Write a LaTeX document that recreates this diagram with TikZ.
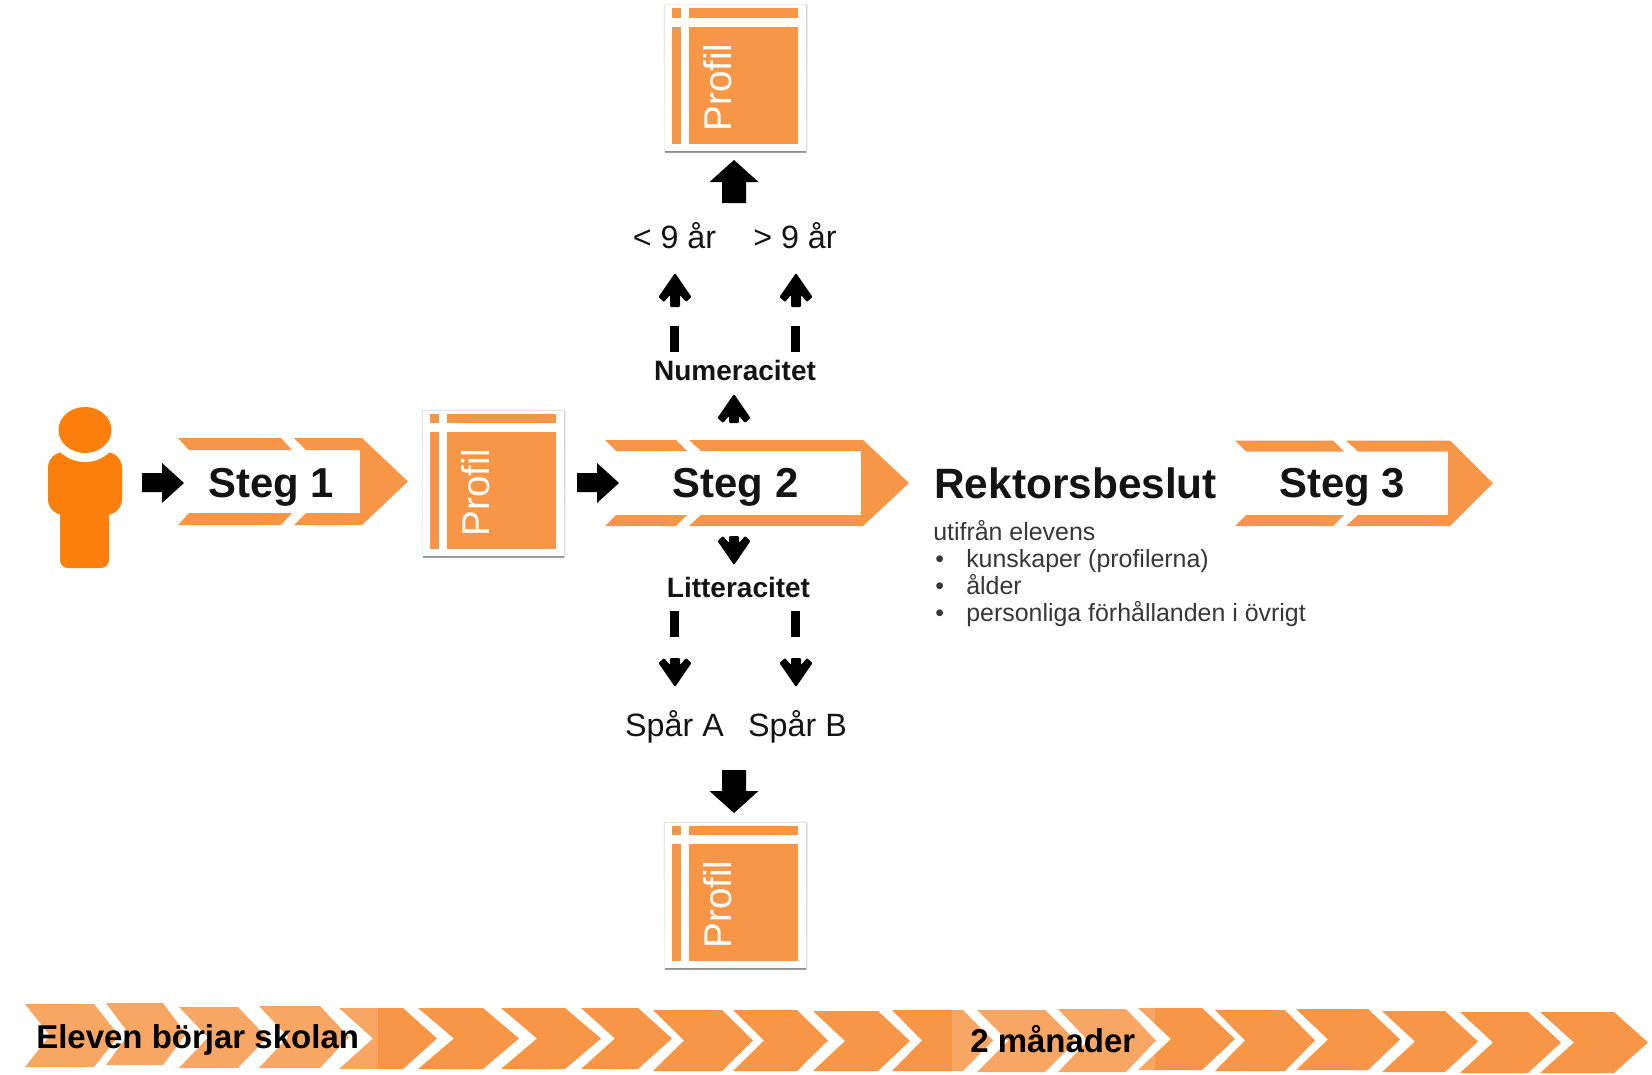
\documentclass[tikz,border=0pt]{standalone}
\usepackage{fontspec}
\setmainfont{Liberation Sans}
\definecolor{org}{HTML}{F79646}
\definecolor{person}{HTML}{FA7F0C}
\definecolor{txt}{HTML}{141414}
\definecolor{shade}{HTML}{7F8794}
\newcommand{\fs}[1]{\fontsize{#1}{#1}\selectfont}
\newcommand{\BlockRight}[2]{\fill[black] (#1,#2) -- ++(-22,-20) -- ++(0,10) -- ++(-20,0) -- ++(0,19) -- ++(20,0) -- ++(0,11) -- cycle;}
\newcommand{\BigV}[3]{\begin{scope}[shift={(#1,#2)},yscale=#3]\fill[black] (0,0) -- (-24.5,-22) -- (-12,-22) -- (-12,-43) -- (12,-43) -- (12,-22) -- (24.5,-22) -- cycle;\end{scope}}
\newcommand{\SmallV}[4]{\begin{scope}[shift={(#1,#2)},yscale=#3]\fill[black,rounded corners=0.8] (0,0) -- (-16.5,-24) -- (-11,-29) -- (-5,-22) -- (-5,-#4) -- (5,-#4) -- (5,-22) -- (11,-29) -- (16.5,-24) -- cycle;\end{scope}}
\newcommand{\StepShape}[8]{%
 \pgfmathsetmacro{\ymid}{(#6+#7)/2}
 \fill[org] (#1,#6) -- (#2,#6) -- ({#2+11},{#6+#8}) -- ({#1+11},{#6+#8}) -- cycle;
 \fill[org] (#3,#6) -- (#4,#6) -- (#5,\ymid) -- (#4,#7) -- (#3,#7) -- ({#3+12},{#7-#8}) -- ({#4-2},{#7-#8}) -- ({#4-2},{#6+#8}) -- ({#3+12},{#6+#8}) -- cycle;
 \fill[org] (#1,#7) -- ({#2},#7) -- ({#2+11},{#7-#8}) -- ({#1+11},{#7-#8}) -- cycle;
}
\newcommand{\ProfilCard}[3]{\begin{scope}[shift={(#1,#2)}]
 \fill[shade,opacity=.05] (-0.5,1) rectangle (143.5,150);
 \fill[shade,opacity=.08] (0.5,2) rectangle (142.5,149.5);
 \fill[shade,opacity=.45] (1,146.5) rectangle (142,149.5);
 \fill[white] (1,2) rectangle (142,147);
 \fill[org] (8,5) rectangle (17,14.5);
 \fill[org] (25,5) rectangle (134,14.5);
 \fill[org] (8,23.5) rectangle (17,140.5);
 \fill[org] (25,23.5) rectangle (134,140.5);
 \node[profiltext] (#3) at (67,84) {Prof{}il};
\end{scope}}
\newcommand{\Chev}[5]{\pgfmathsetmacro{\ymid}{(#4+#5)/2}\fill[org] (#1,#4) -- (#2,#4) -- (#3,\ymid) -- (#2,#5) -- (#1,#5) -- ({#1+#3-#2},\ymid) -- cycle;}
\tikzset{
 x=0.75pt,y=-0.75pt,
 lbl/.style={inner sep=0pt,anchor=base,text=txt},
 steglabel/.style={lbl,font=\bfseries\fs{31.4}},
 midlabel/.style={lbl,font=\bfseries\fs{21}},
 opt/.style={lbl,font=\fs{24.2}},
 note/.style={inner sep=0pt,anchor=base west,text=txt!85,font=\fs{18.7}},
 barlabel/.style={inner sep=0pt,anchor=base west,text=black,font=\bfseries\fs{24.75}},
 profiltext/.style={inner sep=0pt,anchor=base,rotate=90,text=white,font=\fs{29}},
 dashbar/.style={fill=black},
 lighter/.style={fill=white,opacity=.16},
}
\begin{document}
\begin{tikzpicture}
\useasboundingbox (0,0) rectangle (1652,1074);
\fill[white] (0,0) rectangle (1652,1074);

% person
\fill[person,rounded corners=12] (48,452) rectangle (122,515);
\fill[person,rounded corners=6] (60,490) rectangle (109,568);
\fill[white] (85,430) ellipse [x radius=34,y radius=32];
\fill[person] (85,430) ellipse [x radius=26.5,y radius=23];

% main row
\BlockRight{184}{483}
\StepShape{178}{281}{294}{362}{408}{438}{525}{12}
\node[steglabel] (s1) at (271,497) {Steg 1};
\ProfilCard{422}{408.5}{pm}
\BlockRight{619}{483}
\StepShape{605}{676}{689}{863}{909}{440}{526}{11}
\node[steglabel] (s2) at (735.5,497) {Steg 2};
\node[lbl,anchor=base west,font=\bfseries\fs{31.8}] (rb) at (934,498) {Rektorsbeslut};
\StepShape{1235}{1333}{1346}{1450}{1493}{440.5}{526}{11}
\node[steglabel] (s3) at (1342,497) {Steg 3};

% note
\node[note] (n0) at (933,540) {utifrån elevens};
\node[note] (b1) at (935,567) {•};
\node[note] (n1) at (966,567) {kunskaper (prof{}ilerna)};
\node[note] (b2) at (935,594) {•};
\node[note] (n2) at (966,594) {ålder};
\node[note] (b3) at (935,621) {•};
\node[note] (n3) at (966,621) {personliga förhållanden i övrigt};

% upward branch
\ProfilCard{664}{3.5}{pt}
\BigV{734}{160}{-1}
\node[opt] (lt) at (674.5,248) {< 9 år};
\node[opt] (gt) at (795,248) {> 9 år};
\SmallV{675}{273}{-1}{34}
\SmallV{796}{273}{-1}{34}
\fill[dashbar] (670,326) rectangle (679,352);
\fill[dashbar] (791,326) rectangle (800,352);
\node[midlabel] (num) at (735,380) {Numeracitet};
\SmallV{734}{394}{-1}{29}

% downward branch
\SmallV{734}{565}{1}{29}
\node[midlabel] (lit) at (738.5,597) {Litteracitet};
\fill[dashbar] (670,611) rectangle (679,637);
\fill[dashbar] (791,611) rectangle (800,637);
\SmallV{675}{687}{1}{29}
\SmallV{796}{687}{1}{29}
\node[opt] (spa) at (674.5,736) {Spår A};
\node[opt] (spb) at (797.5,736) {Spår B};
\BigV{734}{813}{1}
\ProfilCard{664}{820.5}{pb}

% timeline
\Chev{25}{94}{119}{1004}{1067}
\Chev{106}{163}{186}{1003}{1065}
\Chev{179}{238}{267}{1007}{1068}
\Chev{259}{320}{349}{1006}{1068}
\Chev{339}{403}{437}{1008}{1069}
\Chev{418}{483}{519}{1008}{1069}
\Chev{501}{565}{601}{1008}{1069}
\Chev{581}{638}{672}{1008}{1069}
\Chev{653}{722}{753}{1010}{1071}
\Chev{733}{797}{828}{1010}{1071}
\Chev{813}{878}{910}{1011}{1071}
\Chev{892}{963}{993}{1010}{1071}
\Chev{977}{1045}{1076}{1010}{1072}
\Chev{1058}{1126}{1156}{1009}{1072}
\Chev{1138}{1202}{1235}{1008}{1070}
\Chev{1215}{1285}{1315}{1010}{1071}
\Chev{1296}{1368}{1400}{1009}{1070}
\Chev{1382}{1445}{1478}{1011}{1072}
\Chev{1460}{1528}{1561}{1012}{1073}
\Chev{1540}{1614}{1648}{1012}{1073}
\fill[lighter] (0,1002) rectangle (378,1072);
\fill[lighter] (952,1008) rectangle (1155,1074);
\node[barlabel] (tl) at (36,1048) {Eleven börjar skolan};
\node[barlabel] (tr) at (970,1052) {2 månader};
\end{tikzpicture}
\end{document}
